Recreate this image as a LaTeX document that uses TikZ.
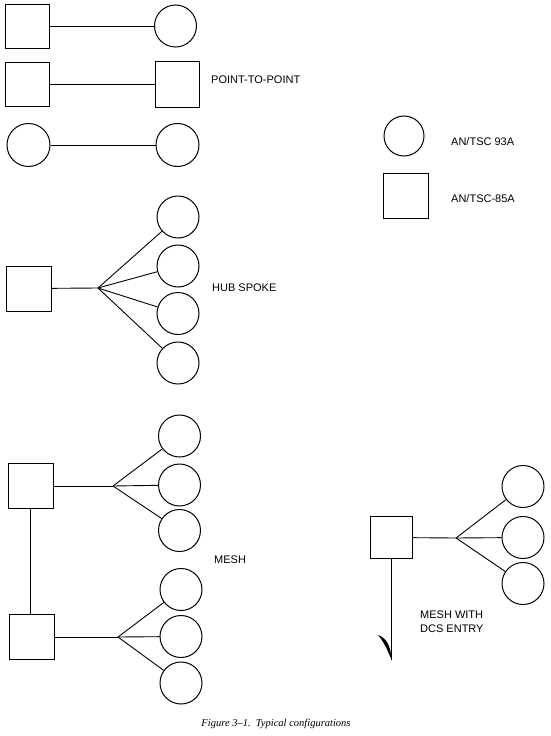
\documentclass[tikz,border=0pt]{standalone}
\usepackage{fontspec}
\setmainfont{Liberation Sans}
\newfontfamily\capfont{Liberation Serif}
\usetikzlibrary{calc}
\tikzset{STATION/.style={circle,draw,line width=1pt,minimum size=42pt,inner sep=0pt}}
\tikzset{TERMINAL/.style={rectangle,draw,line width=1pt,minimum size=44pt,inner sep=0pt}}
\tikzset{LINK/.style={line width=0.9pt}}
\tikzset{LABEL/.style={font=\fontsize{11}{14}\selectfont,anchor=west,inner sep=0pt,align=left}}

\begin{document}
\begin{tikzpicture}[x=1pt,y=-1pt]
\useasboundingbox (0,0) rectangle (550,736);

% point-to-point
\node[TERMINAL] (n_pp1_a) at (27,26) {};
\node[STATION] (n_pp1_b) at (175.5,26) {};
\draw[LINK] (n_pp1_a) -- (n_pp1_b);

\node[TERMINAL] (n_pp2_a) at (27,84) {};
\node[TERMINAL, minimum height=46pt] (n_pp2_b) at (177,84) {};
\draw[LINK] (n_pp2_a) -- (n_pp2_b);

\node[STATION, minimum size=43pt] (n_pp3_a) at (28.5,145) {};
\node[STATION, minimum size=43pt] (n_pp3_b) at (177.5,145) {};
\draw[LINK] (n_pp3_a) -- (n_pp3_b);

\node[LABEL] (n_pp_label) at (211,80) {POINT-TO-POINT};

% legend
\node[STATION, minimum size=40pt] (n_key_station) at (404,136) {};
\node[LABEL] (n_key_station_label) at (451,142) {AN/TSC 93A};
\node[TERMINAL, minimum size=45pt] (n_key_terminal) at (405.5,195.5) {};
\node[LABEL] (n_key_terminal_label) at (451,199) {AN/TSC-85A};

% hub spoke
\node[TERMINAL, minimum size=45pt] (n_hub) at (29,288.5) {};
\coordinate (c_hub) at (98,288);
\draw[LINK] (n_hub) -- (c_hub);
\node[STATION] (n_hub_1) at (178,217) {};
\node[STATION] (n_hub_2) at (178,266) {};
\node[STATION] (n_hub_3) at (178,313.5) {};
\node[STATION] (n_hub_4) at (178,363) {};
\draw[LINK] (c_hub) -- (n_hub_1);
\draw[LINK] (c_hub) -- (n_hub_2);
\draw[LINK] (c_hub) -- (n_hub_3);
\draw[LINK] (c_hub) -- (n_hub_4);
\node[LABEL] (n_hub_label) at (212,288) {HUB SPOKE};

% mesh
\node[TERMINAL, minimum size=45pt] (n_mesh_a) at (30.5,486) {};
\node[TERMINAL, minimum size=45pt] (n_mesh_b) at (31.5,637) {};
\draw[LINK] (n_mesh_a.south) -- (n_mesh_a.south|-n_mesh_b.north);

\coordinate (c_mesh_a) at (113,486);
\draw[LINK] (n_mesh_a) -- (c_mesh_a);
\node[STATION] (n_mesh_a1) at (179.5,436) {};
\node[STATION] (n_mesh_a2) at (179.5,485) {};
\node[STATION] (n_mesh_a3) at (179.5,530.5) {};
\draw[LINK] (c_mesh_a) -- (n_mesh_a1);
\draw[LINK] (c_mesh_a) -- (n_mesh_a2);
\draw[LINK] (c_mesh_a) -- (n_mesh_a3);

\coordinate (c_mesh_b) at (118,637);
\draw[LINK] (n_mesh_b) -- (c_mesh_b);
\node[STATION] (n_mesh_b1) at (181,589.5) {};
\node[STATION] (n_mesh_b2) at (181,636.5) {};
\node[STATION] (n_mesh_b3) at (181,683) {};
\draw[LINK] (c_mesh_b) -- (n_mesh_b1);
\draw[LINK] (c_mesh_b) -- (n_mesh_b2);
\draw[LINK] (c_mesh_b) -- (n_mesh_b3);

\node[LABEL] (n_mesh_label) at (214,560) {MESH};

% mesh with dcs entry
\node[TERMINAL, minimum size=42pt] (n_dcs) at (391.5,537.5) {};
\coordinate (c_dcs) at (456,538);
\draw[LINK] (n_dcs) -- (c_dcs);
\node[STATION] (n_dcs_1) at (523,486.5) {};
\node[STATION] (n_dcs_2) at (523,537.5) {};
\node[STATION] (n_dcs_3) at (523,583.5) {};
\draw[LINK] (c_dcs) -- (n_dcs_1);
\draw[LINK] (c_dcs) -- (n_dcs_2);
\draw[LINK] (c_dcs) -- (n_dcs_3);

\coordinate (c_dcs_end) at ($(n_dcs.south)+(0,101)$);
\draw[LINK] (n_dcs.south) -- (c_dcs_end);
\fill (378,635) .. controls (387,638) and (391,647) .. (c_dcs_end) .. controls (388,651) and (384,642) .. (378,635) -- cycle;

\node[LABEL] (n_dcs_label) at (420,622) {MESH WITH\\DCS ENTRY};

% caption
\node[font=\capfont\fontsize{10.5}{12}\selectfont\itshape, inner sep=0pt] (n_caption) at (276,724) {Figure 3\textendash 1.\enspace Typical configurations};

\end{tikzpicture}
\end{document}
